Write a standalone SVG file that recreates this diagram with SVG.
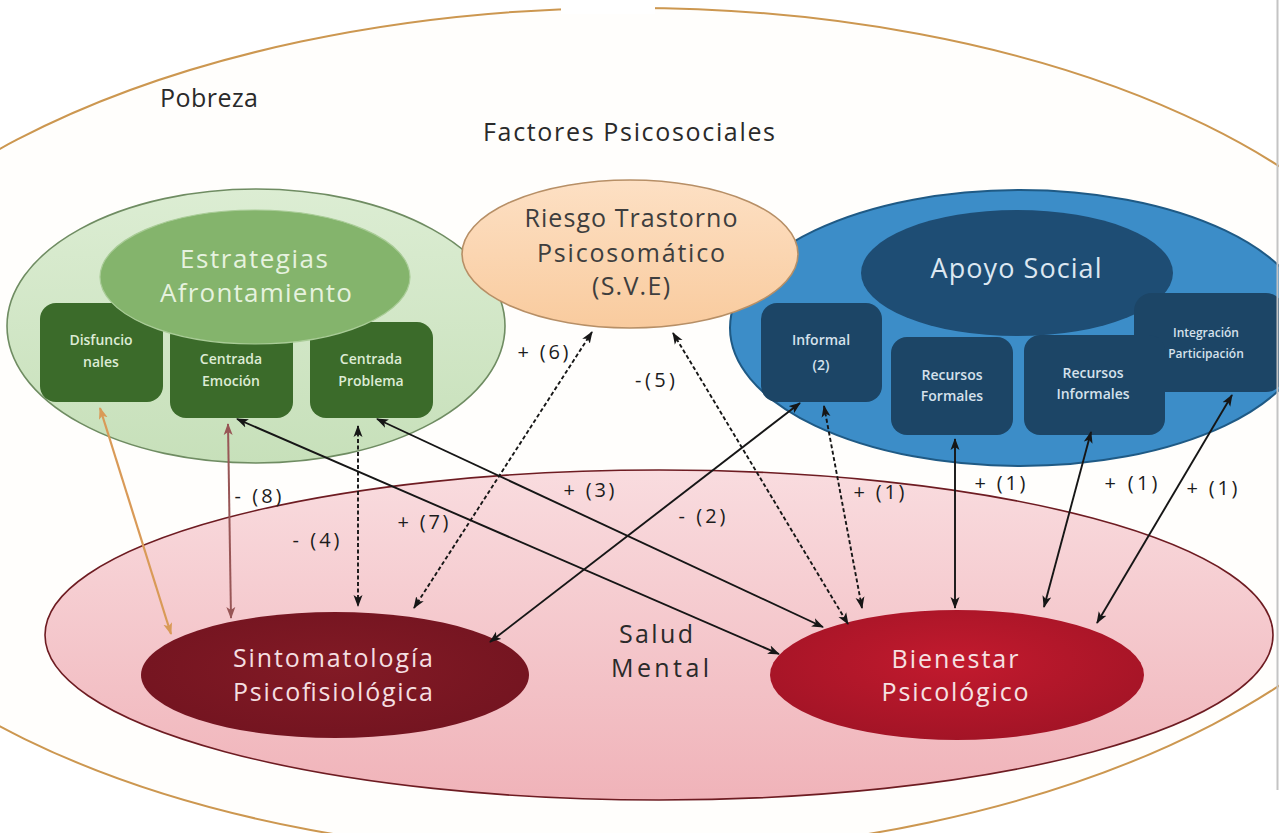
<svg xmlns="http://www.w3.org/2000/svg" width="1279" height="833" viewBox="0 0 1279 833">
<defs>
<style>
text{font-family:'Open Sans','Liberation Sans',sans-serif;text-anchor:middle}
.lbl{font-size:20px;fill:#1c1c1c}
.big{font-size:25px}
.gbox{fill:#3B6B2A}
.gtxt{font-size:14px;font-weight:600;fill:#DDEBD5}
.bbox{fill:#1C4566}
.btxt{font-size:14px;font-weight:600;fill:#D5E1EC}
.solid{stroke:#161616;stroke-width:1.9;fill:none;marker-start:url(#ah);marker-end:url(#ah)}
.dash{stroke:#161616;stroke-width:1.9;fill:none;stroke-dasharray:4 2.5;marker-start:url(#ah);marker-end:url(#ah)}
</style>
<linearGradient id="gPink" x1="0" y1="0" x2="0" y2="1">
<stop offset="0" stop-color="#F9DCDF"/><stop offset="1" stop-color="#F0B3B9"/>
</linearGradient>
<linearGradient id="gGreen" x1="0" y1="0" x2="0" y2="1">
<stop offset="0" stop-color="#DCEDD3"/><stop offset="1" stop-color="#C7E0BA"/>
</linearGradient>
<linearGradient id="gPeach" x1="0" y1="0" x2="0" y2="1">
<stop offset="0" stop-color="#FDE0C4"/><stop offset="1" stop-color="#F9CB9E"/>
</linearGradient>
<radialGradient id="gBien" cx="0.5" cy="0.4" r="0.6">
<stop offset="0" stop-color="#C21A2E"/><stop offset="1" stop-color="#A31426"/>
</radialGradient>
<radialGradient id="gSint" cx="0.5" cy="0.45" r="0.6">
<stop offset="0" stop-color="#821A25"/><stop offset="1" stop-color="#731420"/>
</radialGradient>
<marker id="ah" viewBox="0 0 12 10" refX="11" refY="5" markerWidth="12" markerHeight="10" markerUnits="userSpaceOnUse" orient="auto-start-reverse">
<path d="M0,0.5 L12,5 L0,9.5 L3,5 z" fill="#161616"/>
</marker>
<marker id="ahO" viewBox="0 0 12 10" refX="11" refY="5" markerWidth="12" markerHeight="10" markerUnits="userSpaceOnUse" orient="auto-start-reverse">
<path d="M0,0.5 L12,5 L0,9.5 L3,5 z" fill="#D99A57"/>
</marker>
<marker id="ahM" viewBox="0 0 12 10" refX="11" refY="5" markerWidth="12" markerHeight="10" markerUnits="userSpaceOnUse" orient="auto-start-reverse">
<path d="M0,0.5 L12,5 L0,9.5 L3,5 z" fill="#985656"/>
</marker>
</defs>

<rect x="0" y="0" width="1279" height="833" fill="#FFFFFF"/>

<g id="pobreza">
<ellipse cx="615" cy="432" rx="840" ry="424" transform="rotate(-0.7 615 432)" fill="#FFFEFC" stroke="#CC9750" stroke-width="2"/>
<rect x="561" y="0" width="94" height="14" fill="#FFFFFF"/>
<text x="209" y="107" font-size="25" fill="#2a2a2a" textLength="98">Pobreza</text>
</g>

<g id="factores">
<text x="629" y="141" font-size="25" fill="#2a2a2a" textLength="292">Factores Psicosociales</text>
</g>

<g id="salud-mental">
<ellipse cx="659" cy="635" rx="614" ry="165" fill="url(#gPink)" stroke="#6E1C22" stroke-width="1.6"/>
<text x="656" y="643" class="big" fill="#2a2a2a" textLength="74">Salud</text>
<text x="660" y="677" class="big" fill="#2a2a2a" textLength="98">Mental</text>
</g>

<g id="estrategias">
<ellipse cx="256" cy="326" rx="249" ry="137" fill="url(#gGreen)" stroke="#6F8C62" stroke-width="1.6"/>
<rect x="40" y="303" width="123" height="99" rx="16" class="gbox"/>
<rect x="170" y="320" width="123" height="98" rx="16" class="gbox"/>
<rect x="310" y="322" width="123" height="96" rx="16" class="gbox"/>
<ellipse cx="255" cy="277" rx="155" ry="67" fill="#84B46C" stroke="#A9CC97" stroke-width="1.2"/>
<text x="254" y="268" font-size="26" fill="#E6F2DF" textLength="148">Estrategias</text>
<text x="256" y="302" font-size="26" fill="#E6F2DF" textLength="192">Afrontamiento</text>
<text x="101" y="345" class="gtxt">Disfuncio</text>
<text x="101" y="367" class="gtxt">nales</text>
<text x="231" y="364" class="gtxt">Centrada</text>
<text x="231" y="386" class="gtxt">Emoción</text>
<text x="371" y="364" class="gtxt">Centrada</text>
<text x="371" y="386" class="gtxt">Problema</text>
</g>

<g id="apoyo-social">
<ellipse cx="1020" cy="328" rx="290" ry="138" fill="#3C8DC8" stroke="#1F5A85" stroke-width="2"/>
<ellipse cx="1017" cy="273" rx="156" ry="63" fill="#1E4D74"/>
<text x="1016" y="278" font-size="27" fill="#DCE7F1" textLength="171">Apoyo Social</text>
<rect x="761" y="303" width="121" height="99" rx="16" class="bbox"/>
<rect x="891" y="337" width="122" height="98" rx="16" class="bbox"/>
<rect x="1134" y="293" width="150" height="99" rx="18" class="bbox"/>
<rect x="1024" y="335" width="141" height="100" rx="16" class="bbox"/>
<text x="821" y="345" class="btxt">Informal</text>
<text x="821" y="370" class="btxt">(2)</text>
<text x="952" y="380" class="btxt">Recursos</text>
<text x="952" y="401" class="btxt">Formales</text>
<text x="1093" y="378" class="btxt">Recursos</text>
<text x="1093" y="399" class="btxt">Informales</text>
<text x="1206" y="337" font-size="12" font-weight="600" fill="#D5E1EC">Integración</text>
<text x="1206" y="358" font-size="12" font-weight="600" fill="#D5E1EC">Participación</text>
</g>

<g id="riesgo">
<ellipse cx="630" cy="254" rx="168" ry="74" fill="url(#gPeach)" stroke="#B78F66" stroke-width="1.6"/>
<text x="631" y="227" font-size="25" fill="#3E3E3E" textLength="213">Riesgo Trastorno</text>
<text x="631" y="262" font-size="25" fill="#3E3E3E" textLength="188">Psicosomático</text>
<text x="631" y="295" font-size="25" fill="#3E3E3E" textLength="78">(S.V.E)</text>
</g>

<g id="sintomatologia">
<ellipse cx="335" cy="675" rx="194" ry="63" fill="url(#gSint)"/>
<text x="333" y="667" class="big" fill="#F4DEE0" textLength="200">Sintomatología</text>
<text x="333" y="701" class="big" fill="#F4DEE0" textLength="200">Psicofisiológica</text>
</g>

<g id="bienestar">
<ellipse cx="957" cy="675" rx="187" ry="65" fill="url(#gBien)"/>
<text x="955" y="668" class="big" fill="#F6E1E3" textLength="127">Bienestar</text>
<text x="955" y="701" class="big" fill="#F6E1E3" textLength="147">Psicológico</text>
</g>

<g id="connectors">
<line x1="100" y1="408" x2="171" y2="634" stroke="#D99A57" stroke-width="2.2" marker-start="url(#ahO)" marker-end="url(#ahO)"/>
<line x1="228" y1="424" x2="231" y2="618" stroke="#985656" stroke-width="2" marker-start="url(#ahM)" marker-end="url(#ahM)"/>
<line x1="358" y1="426" x2="358" y2="606" class="dash"/>
<line x1="592" y1="332" x2="414" y2="608" class="dash"/>
<line x1="237" y1="419" x2="779" y2="654" class="solid"/>
<line x1="377" y1="419" x2="823" y2="627" class="solid"/>
<line x1="800" y1="403" x2="490" y2="642" class="solid"/>
<line x1="673" y1="333" x2="848" y2="624" class="dash"/>
<line x1="824" y1="406" x2="862" y2="608" class="dash"/>
<line x1="955" y1="439" x2="955" y2="608" class="solid"/>
<line x1="1091" y1="432" x2="1044" y2="607" class="solid"/>
<line x1="1232" y1="395" x2="1097" y2="623" class="solid"/>
</g>

<g id="labels">
<text x="258" y="503" class="lbl" textLength="47">- (8)</text>
<text x="316" y="547" class="lbl" textLength="47">- (4)</text>
<text x="423" y="529" class="lbl" textLength="51">+ (7)</text>
<text x="589" y="497" class="lbl" textLength="51">+ (3)</text>
<text x="543" y="359" class="lbl" textLength="51">+ (6)</text>
<text x="655" y="387" class="lbl" textLength="40">-(5)</text>
<text x="702" y="523" class="lbl" textLength="47">- (2)</text>
<text x="879" y="499" class="lbl" textLength="51">+ (1)</text>
<text x="1000" y="490" class="lbl" textLength="51">+ (1)</text>
<text x="1131" y="490" class="lbl" textLength="53">+ (1)</text>
<text x="1212" y="495" class="lbl" textLength="51">+ (1)</text>
</g>

<line x1="1277.5" y1="0" x2="1277.5" y2="790" stroke="#C4C4C4" stroke-width="2"/>
</svg>
